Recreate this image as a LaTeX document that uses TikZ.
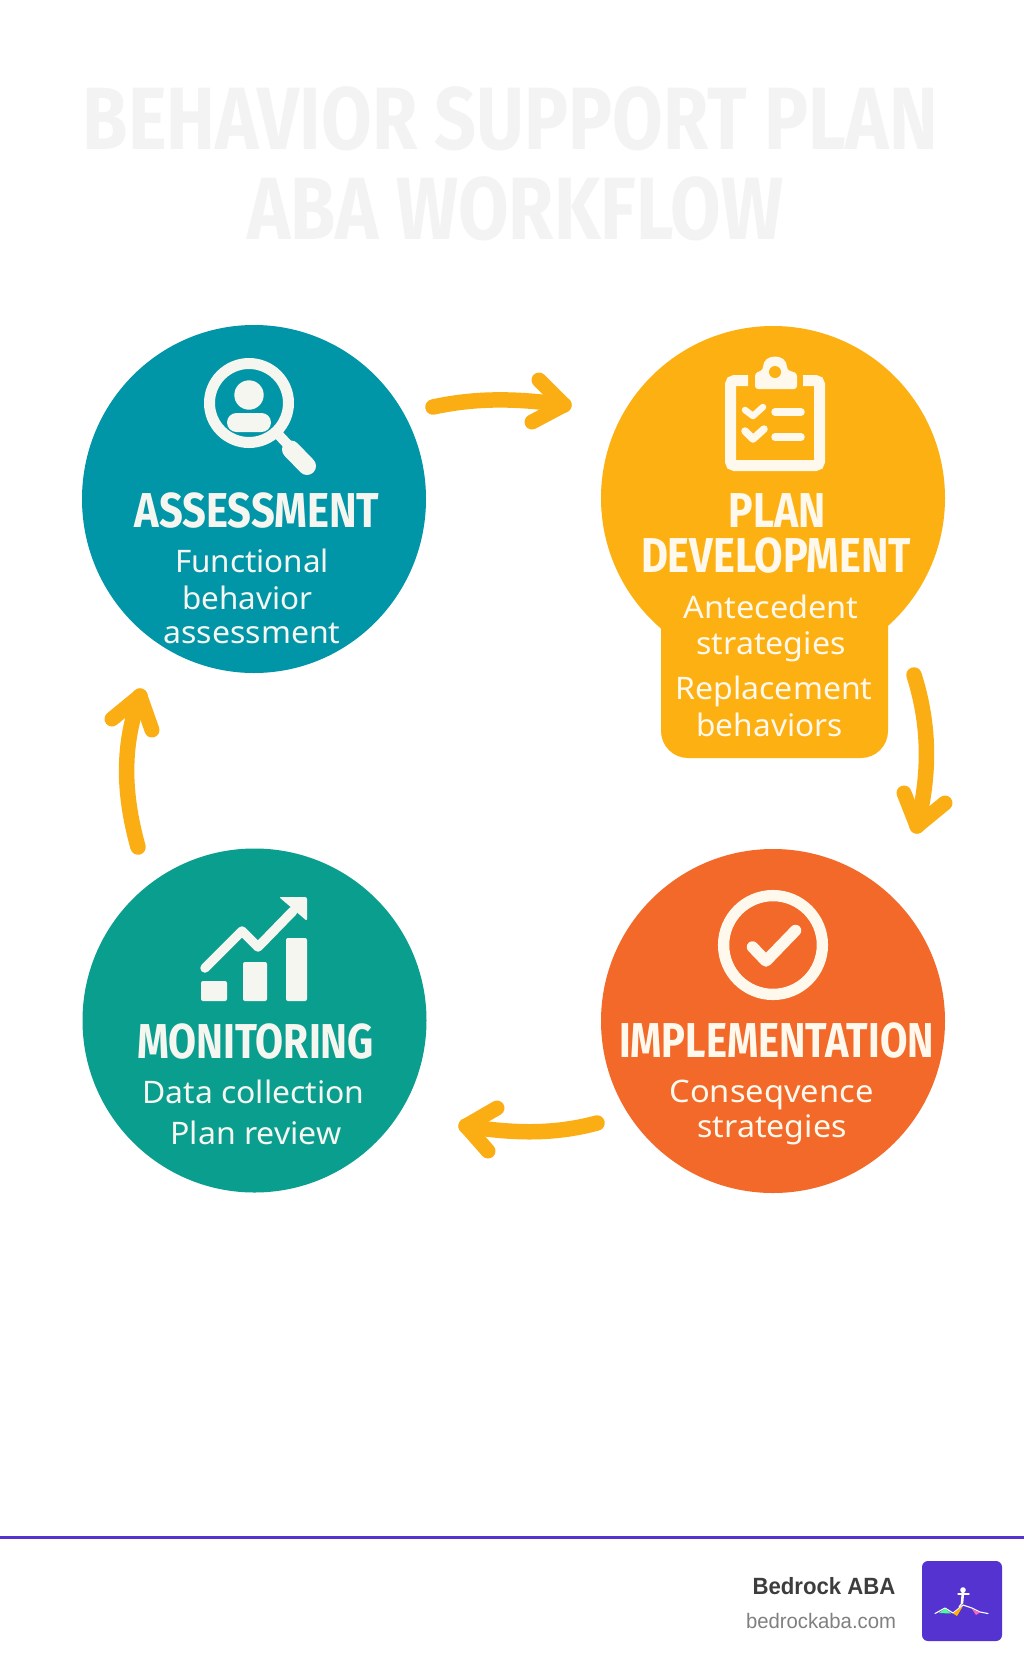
\documentclass[tikz,border=0pt]{standalone}
\usepackage{fontspec}
\usepackage{graphicx}
\usetikzlibrary{shapes.geometric}
\setmainfont{Noto Sans}
\newfontfamily\headfont{Fira Sans}[BoldFont={Fira Sans Bold}]
\newfontfamily\footfont{Liberation Sans}
\definecolor{teala}{HTML}{0195A8}
\definecolor{tealb}{HTML}{0A9E8F}
\definecolor{amber}{HTML}{FDB012}
\definecolor{flame}{HTML}{F2692A}
\definecolor{arrowc}{HTML}{FBAE14}
\definecolor{cream}{HTML}{F5F6F0}
\definecolor{creamb}{HTML}{FFF8EC}
\definecolor{titlec}{HTML}{F3F3F3}
\definecolor{violet}{HTML}{5533D0}
\newcommand{\fitw}[2]{\setbox0=\hbox{#2}\pgfmathsetmacro\fitr{#1pt/\wd0}\scalebox{\fitr}[1]{\box0}}
\tikzset{
  stage/.style={circle,minimum size=2*172pt,inner sep=0pt,draw=none},
  stagetall/.style={ellipse,minimum width=344pt,minimum height=348pt,inner sep=0pt,draw=none},
  lab/.style={anchor=base,inner sep=0pt,outer sep=0pt},
  flow/.style={draw=arrowc,line width=15.5pt,line cap=round,line join=round},
  tip/.style={draw=arrowc,line width=15pt,line cap=round,line join=round},
}
\newcommand{\titlefit}[2]{\fitw{#1}{\fontsize{88.5}{88.5}\selectfont\headfont\bfseries #2}}
\newcommand{\headfit}[2]{\fitw{#1}{\fontsize{49}{49}\selectfont\headfont\bfseries #2}}
\newcommand{\bodyfit}[2]{\fitw{#1}{\fontsize{31}{31}\selectfont #2}}
\begin{document}
\begin{tikzpicture}[x=1pt,y=-1pt]
\useasboundingbox (0,0) rectangle (1024,1666);
\fill[white] (0,0) rectangle (1024,1666);
% title
\node[lab,text=titlec] (t1) at (510.5,149.5) {\titlefit{855}{BEHAVIOR SUPPORT PLAN}};
\node[lab,text=titlec] (t2) at (515.5,239.5) {\titlefit{536}{ABA WORKFLOW}};
% stage discs
\node[stagetall,fill=teala] (assess) at (254,499) {};
\node[stage,fill=amber] (plan) at (773,498) {};
\fill[amber,rounded corners=27pt] (661,560) -- (661,758) -- (888,758) -- (888,560) -- cycle;
\node[stage,fill=flame] (impl) at (773,1021) {};
\node[stage,fill=tealb] (monit) at (254.5,1020.5) {};
% magnifier
\draw[cream,line width=11pt] (249,403) circle[radius=39.5pt];
\fill[cream] (249,395) circle[radius=14.7pt];
\fill[cream,rounded corners=9.5pt] (227,413) rectangle (271,432);
\draw[cream,line width=10pt] (276,432) -- (290,447);
\draw[cream,line width=18pt,line cap=round] (291,449.5) -- (307,466);
% clipboard
\draw[creamb,line width=11pt,rounded corners=4pt] (748,380.5) -- (730.5,380.5) -- (730.5,465.5) -- (819.5,465.5) -- (819.5,380.5) -- (803,380.5);
\fill[creamb,rounded corners=3pt] (755,389) -- (755,373) -- (763,370) .. controls (763,353) and (787,353) .. (787,370) -- (797,373) -- (797,389) -- cycle;
\fill[amber] (775,372) circle[radius=6pt];
\draw[creamb,line width=6.5pt,line cap=round,line join=round] (745,410) -- (753,416) -- (763,407);
\draw[creamb,line width=7.5pt,line cap=round,line join=round] (745,431) -- (753,439) -- (764,429);
\draw[creamb,line width=7.5pt,line cap=round] (775,412) -- (801,412);
\draw[creamb,line width=7.5pt,line cap=round] (775,437) -- (801,437);
% check ring
\draw[creamb,line width=11.3pt] (773,945) circle[radius=49.4pt];
\draw[creamb,line width=11.5pt,line cap=round,line join=round] (752.5,947) -- (766,961) -- (795.5,930.5);
% chart
\fill[cream,rounded corners=2pt] (201,981) rectangle (227,1001);
\fill[cream,rounded corners=2pt] (243,962) rectangle (267,1001);
\fill[cream,rounded corners=2pt] (286,938) rectangle (307,1001);
\draw[cream,line width=9.5pt,line cap=round,line join=round] (205,968) -- (242,931) -- (258,947) -- (293,911);
\fill[cream,rounded corners=2pt] (279,897) -- (307,897) -- (307,921) -- cycle;
% stage labels
\node[lab,text=cream] (a1) at (257,527) {\headfit{245}{ASSESSMENT}};
\node[lab,text=cream] (a2) at (252,572) {\bodyfit{154}{Functional}};
\node[lab,text=cream] (a3) at (247.5,609) {\bodyfit{130}{behavior}};
\node[lab,text=cream] (a4) at (252,643) {\bodyfit{177}{assessment}};
\node[lab,text=creamb] (p1) at (777,527) {\headfit{97}{PLAN}};
\node[lab,text=creamb] (p2) at (776,572) {\headfit{270}{DEVELOPMENT}};
\node[lab,text=creamb] (p3) at (771,618) {\bodyfit{175}{Antecedent}};
\node[lab,text=creamb] (p4) at (771,654) {\bodyfit{149}{strategies}};
\node[lab,text=creamb] (p5) at (774,699) {\bodyfit{197}{Replacement}};
\node[lab,text=creamb] (p6) at (769.5,736) {\bodyfit{146}{behaviors}};
\node[lab,text=creamb] (i1) at (776.5,1057) {\headfit{315}{IMPLEMENTATION}};
\node[lab,text=creamb] (i2) at (771.5,1102) {\bodyfit{204}{Conseqvence}};
\node[lab,text=creamb] (i3) at (772,1137) {\bodyfit{149}{strategies}};
\node[lab,text=cream] (m1) at (255.5,1058) {\headfit{237}{MONITORING}};
\node[lab,text=cream] (m2) at (253.5,1103) {\bodyfit{222}{Data collection}};
\node[lab,text=cream] (m3) at (256,1144) {\bodyfit{171}{Plan review}};
% connectors
\coordinate (c1s) at (433,407); \coordinate (c1e) at (564,405);
\coordinate (c1u) at (539,380); \coordinate (c1d) at (532,422);
\coordinate (c2s) at (914,675); \coordinate (c2e) at (917,826);
\coordinate (c2u) at (904,793); \coordinate (c2d) at (945,803);
\coordinate (c3s) at (597,1123); \coordinate (c3e) at (466,1126);
\coordinate (c3u) at (497,1108); \coordinate (c3d) at (488,1151);
\coordinate (c4s) at (138,847); \coordinate (c4e) at (140,696);
\coordinate (c4u) at (112,719); \coordinate (c4d) at (152,730);
\draw[flow] (c1s) .. controls (470,399) and (510,397) .. (c1e);
\draw[tip] (c1u) -- (c1e) -- (c1d);
\draw[flow] (c2s) .. controls (925,710) and (934,760) .. (c2e);
\draw[tip] (c2u) -- (c2e) -- (c2d);
\draw[flow] (c3s) .. controls (560,1133) and (520,1135) .. (c3e);
\draw[tip] (c3u) -- (c3e) -- (c3d);
\draw[flow] (c4s) .. controls (125,800) and (120,750) .. (c4e);
\draw[tip] (c4u) -- (c4e) -- (c4d);
% footer
\coordinate (rl) at (0,1537); \coordinate (rr) at (1024,1537);
\draw[violet,line width=3pt] (rl) -- (rr);
\node[lab,text={rgb,255:red,61;green,61;blue,61}] (b1) at (824,1594) {\fitw{143}{\fontsize{23.5}{23.5}\selectfont\footfont\bfseries Bedrock ABA}};
\node[lab,text={rgb,255:red,128;green,128;blue,128}] (b2) at (821,1628) {\fitw{150}{\fontsize{21}{21}\selectfont\footfont bedrockaba.com}};
\fill[violet,rounded corners=6pt] (922,1561) rectangle (1002,1641);
\fill[white] (963,1590) circle[radius=2.8pt];
\draw[white,line width=2.6pt,line cap=round] (963,1592) -- (962,1603);
\draw[white,line width=1.3pt,line cap=round] (958,1594) -- (969,1594);
\draw[white,line width=1.2pt,line cap=round] (962,1603) -- (959,1607);
\draw[white,line width=1.1pt,line join=round,line cap=round] (935,1613.5) -- (945,1608) -- (953,1613) -- (963,1605) -- (972,1608) -- (980,1612) -- (988,1613.5);
\fill[green!60!cyan!70!white] (939,1613) -- (945,1608.5) -- (951,1613.5) -- cycle;
\fill[orange!60!yellow] (953,1613.5) -- (963,1606) -- (957,1616) -- cycle;
\fill[magenta!60!white] (972,1609) -- (980,1612.5) -- (976,1615) -- cycle;
\end{tikzpicture}
\end{document}
